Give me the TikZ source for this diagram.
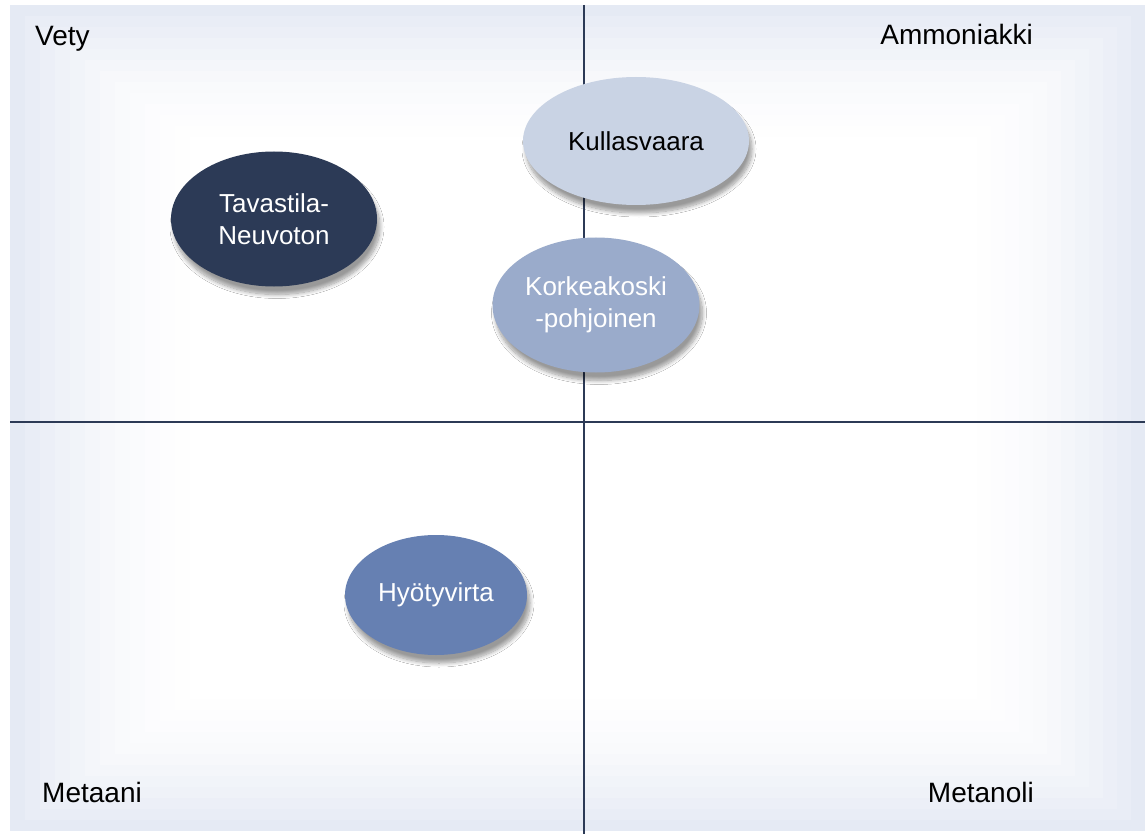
\documentclass[tikz,border=0pt]{standalone}
\usepackage{fontspec}
\setmainfont{Liberation Sans}
\usetikzlibrary{shapes.geometric, shadows.blur}
\definecolor{axisnavy}{RGB}{44, 58, 86}
\definecolor{bgedge}{RGB}{229, 234, 244}
\definecolor{darknavy}{RGB}{44, 58, 86}
\definecolor{paleblue}{RGB}{201, 211, 228}
\definecolor{softblue}{RGB}{154, 171, 203}
\definecolor{midblue}{RGB}{102, 128, 178}

\begin{document}
\begin{tikzpicture}[x=1pt, y=-1pt,
    site/.style={ellipse, inner sep=0pt, align=center, font=\fontsize{26}{32}\selectfont,
        blur shadow={shadow xshift=3pt, shadow yshift=-8pt, shadow opacity=40,
            shadow blur radius=4pt, shadow blur steps=10}},
    corner/.style={font=\fontsize{28}{32}\selectfont, inner sep=0pt},
    axis/.style={draw=axisnavy, line width=1.4pt}]
    \useasboundingbox (0, 0) rectangle (1145, 834);

    % Background with a soft frame
    \foreach \i in {0,...,13} {
        \pgfmathsetmacro{\tint}{100*(1-\i/13)^1.8}
        \fill[bgedge!\tint!white] (10+\i*15, 5+\i*11) rectangle (1145-\i*14, 831-\i*11);
    }

    % Axes
    \coordinate (vtop) at (584, 5);
    \coordinate (vbot) at (584, 834);
    \coordinate (hleft) at (10, 422);
    \coordinate (hright) at (1145, 422);
    \draw[axis] (vtop) -- (vbot);
    \draw[axis] (hleft) -- (hright);

    % Corner labels
    \node (vety) at (35, 46) [corner, anchor=base west] {Vety};
    \node (ammoniakki) at (1033, 45) [corner, anchor=base east] {Ammoniakki};
    \node (metaani) at (42, 802) [corner, anchor=base west] {Metaani};
    \node (metanoli) at (1034, 802) [corner, anchor=base east] {Metanoli};

    % Sites
    \node (kullasvaara) at (636, 141) [site, fill=paleblue, text=black,
        minimum width=226, minimum height=128] {Kullasvaara};
    \node (tavastila) at (274, 219) [site, fill=darknavy, text=white,
        minimum width=206, minimum height=135] {Tavastila-\\Neuvoton};
    \node (korkeakoski) at (596, 305) [site, fill=softblue, text=white,
        minimum width=207, minimum height=135] {Korkeakoski\\-pohjoinen};
    \node (hyotyvirta) at (436, 595) [site, fill=midblue, text=white,
        minimum width=182, minimum height=120] {Hyötyvirta};
\end{tikzpicture}
\end{document}
